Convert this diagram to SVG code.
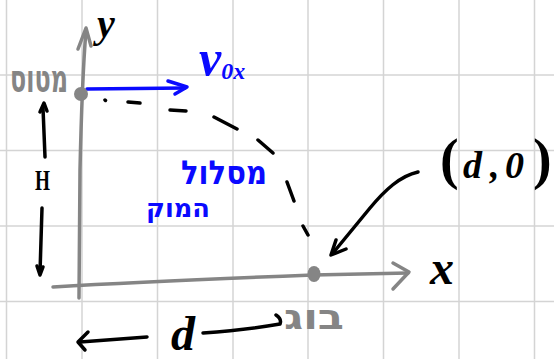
<svg xmlns="http://www.w3.org/2000/svg" width="554" height="359" viewBox="0 0 554 359">
<style>
.grid line{stroke:#d4d4d4;stroke-width:1.5}
.ink{fill:none;stroke-linecap:round;stroke-linejoin:round}
.blk{stroke:#000;stroke-width:3.5}
.gry{stroke:#858585;stroke-width:3.5}
.blu{stroke:#0a0aff;stroke-width:3.5}
.math{font-family:"Liberation Serif",serif;font-style:italic;font-weight:bold;fill:#000}
.heb{font-family:"DejaVu Sans","Liberation Sans",sans-serif;font-weight:bold;text-anchor:middle}
</style>
<rect width="554" height="359" fill="#fff"/>
<g class="grid">
<line x1="6.5" y1="0" x2="6.5" y2="359"/><line x1="82" y1="0" x2="82" y2="359"/>
<line x1="157.5" y1="0" x2="157.5" y2="359"/><line x1="233" y1="0" x2="233" y2="359"/>
<line x1="308" y1="0" x2="308" y2="359"/><line x1="383.5" y1="0" x2="383.5" y2="359"/>
<line x1="459" y1="0" x2="459" y2="359"/><line x1="534.5" y1="0" x2="534.5" y2="359"/>
<line x1="0" y1="75" x2="554" y2="75"/><line x1="0" y1="150.5" x2="554" y2="150.5"/>
<line x1="0" y1="226" x2="554" y2="226"/><line x1="0" y1="301.5" x2="554" y2="301.5"/>
</g>
<g id="connectors">
<g id="y-axis" class="ink gry"><path d="M79 298 L80 170 Q82 80 86 30"/><path d="M78 49 L86 28 L91 46"/></g>
<g id="x-axis" class="ink gry"><path d="M53 287 Q150 281 313 275 L408 273"/><path d="M393 263 L409 272 L393 289"/></g>
<g id="v0x-arrow" class="ink blu"><path d="M87 89 L185 88"/><path d="M168 81 L187 87 L175 94"/></g>
<g id="trajectory" class="ink blk"><path d="M105 100 l0.5 0.5 M128 102 L140 103 M170 110 L186 111 M214 117 L237 129 M258 140 L273 153 M287 182 L294 201 M303 226 L308 235"/></g>
<g id="d0-arrow" class="ink blk"><path d="M418 172 C400 176 385 190 370 208 L333 253"/><path d="M336 240 L331 255 L346 249"/></g>
<g id="H-arrow" class="ink blk"><path d="M45 157 L43 108"/><path d="M40 112 L44 103 L47 111"/><path d="M42 208 L40 273"/><path d="M37 266 L40 275 L43 267"/></g>
<g id="d-arrow" class="ink blk"><path d="M147 337 L80 342"/><path d="M88 332 L78 342 L85 350"/><path d="M203 333 Q245 330 280 324 Q282 319 276 315"/></g>
</g>
<g id="launch"><ellipse cx="81" cy="94" rx="7" ry="7" fill="#858585"/><text class="heb" x="39" y="92" font-size="38" textLength="58" lengthAdjust="spacingAndGlyphs" fill="#858585">מטוס</text></g>
<g id="landing"><ellipse cx="314" cy="274" rx="6.5" ry="8" fill="#858585"/><text class="heb" x="314" y="329" font-size="34" textLength="60" lengthAdjust="spacingAndGlyphs" fill="#858585">בוג</text></g>
<g id="v0x-label"><text class="math" x="199" y="75" font-size="50" style="fill:#0a0aff">v<tspan font-size="24" dy="4">0x</tspan></text></g>
<g id="path-label"><text class="heb" x="224" y="184" font-size="33" textLength="86" lengthAdjust="spacingAndGlyphs" fill="#0a0aff">מסלול</text><text class="heb" x="178" y="217" font-size="26" textLength="64" lengthAdjust="spacingAndGlyphs" fill="#0a0aff">המוק</text></g>
<g id="y-label"><text class="math" x="97" y="37" font-size="40">y</text></g>
<g id="x-label"><text class="math" x="430" y="284" font-size="48">x</text></g>
<g id="H-label"><text class="math" x="35" y="190" font-size="30" textLength="15" lengthAdjust="spacingAndGlyphs" style="font-style:normal">H</text></g>
<g id="d-label"><text class="math" x="171" y="350" font-size="48">d</text></g>
<g id="point-label"><text class="math" y="178" font-size="38"><tspan x="440" font-size="56" style="font-style:normal">(</tspan><tspan x="463">d</tspan><tspan x="490">,</tspan><tspan x="505">0</tspan><tspan x="533" font-size="56" style="font-style:normal">)</tspan></text></g>
</svg>
